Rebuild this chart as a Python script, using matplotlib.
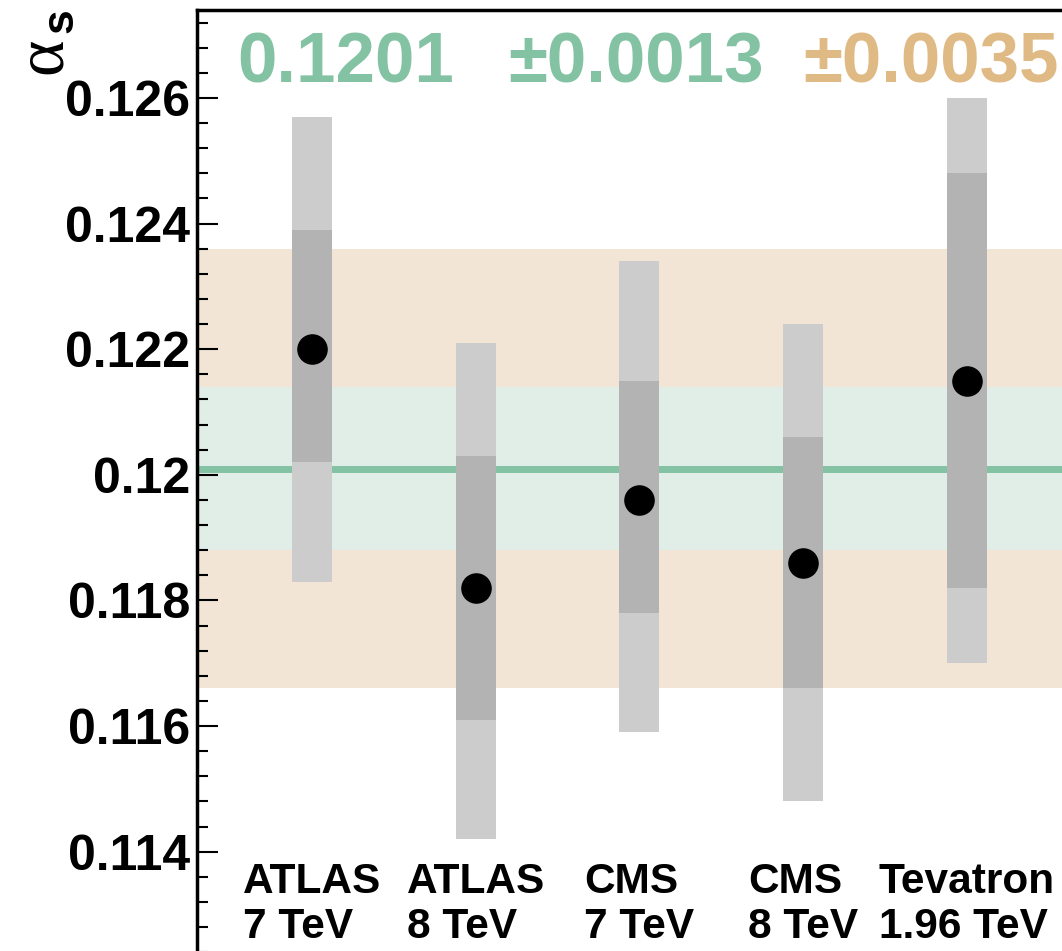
import matplotlib
matplotlib.use("Agg")
import matplotlib.pyplot as plt
import numpy as np

plt.rcParams['font.family'] = ['Liberation Sans', 'DejaVu Sans']
plt.rcParams['font.weight'] = 'bold'

# alpha_s extractions
labels = ['ATLAS\n7 TeV', 'ATLAS\n8 TeV', 'CMS\n7 TeV', 'CMS\n8 TeV', 'Tevatron\n1.96 TeV']
central = [0.1220, 0.1182, 0.1196, 0.1186, 0.1215]
inner_lo = [0.1202, 0.1161, 0.1178, 0.1166, 0.1182]
inner_hi = [0.1239, 0.1203, 0.1215, 0.1206, 0.1248]
outer_lo = [0.1183, 0.1142, 0.1159, 0.1148, 0.1170]
outer_hi = [0.1257, 0.1221, 0.1234, 0.1224, 0.1260]

# combined result
avg = 0.1201
err_stat = 0.0013
err_tot = 0.0035

yticks = [0.114, 0.116, 0.118, 0.120, 0.122, 0.124, 0.126]
ytick_labels = ['0.114', '0.116', '0.118', '0.12', '0.122', '0.124', '0.126']

green = '#84C2A4'
orange = '#E0BA85'

fig = plt.figure(figsize=(10.62, 9.51), dpi=100)
ax = fig.add_axes([0.1855, -0.1598, 0.8484, 1.1493])
ax.set_xlim(-0.702, 4.8)
ax.set_ylim(0.110, 0.1274)

x = np.arange(len(labels))

ax.axhspan(avg - err_tot, avg + err_tot, color='#F2E5D5', lw=0, zorder=0)
ax.axhspan(avg - err_stat, avg + err_stat, color='#E0EEE7', lw=0, zorder=1)
ax.axhline(avg, color=green, lw=5, zorder=2)

lo_out = np.array(outer_lo)
hi_out = np.array(outer_hi)
lo_in = np.array(inner_lo)
hi_in = np.array(inner_hi)
ax.bar(x, hi_out - lo_out, bottom=lo_out, width=0.244, color='#CCCCCC', lw=0, zorder=3)
ax.bar(x, hi_in - lo_in, bottom=lo_in, width=0.244, color='#B3B3B3', lw=0, zorder=4)
ax.plot(x, central, 'o', color='black', ms=21, zorder=5)

for xi, lab in zip(x, labels):
    ax.text(xi, 0.11383, lab, ha='center', va='top', multialignment='left',
            fontsize=30.5, fontweight='bold', linespacing=1.15, zorder=6)

ax.text(-0.458, 0.12624, '%.4f' % avg, color=green, fontsize=51,
        fontweight='bold', va='baseline', ha='left')
ax.text(1.197, 0.12624, '\u00b1%.4f' % err_stat, color=green, fontsize=51,
        fontweight='bold', va='baseline', ha='left')
ax.text(2.998, 0.12624, '\u00b1%.4f' % err_tot, color=orange, fontsize=51,
        fontweight='bold', va='baseline', ha='left')

ax.set_yticks(yticks)
ax.set_yticklabels(ytick_labels)
ax.set_yticks(np.arange(0.1104, 0.1274, 0.0004), minor=True)
ax.set_xticks([])
ax.tick_params(axis='y', which='major', direction='in', length=15, width=1.5,
               labelsize=36, pad=5)
ax.tick_params(axis='y', which='minor', direction='in', length=8, width=1.5)
for lab in ax.get_yticklabels():
    lab.set_fontweight('bold')

ax.spines['left'].set_linewidth(2.5)
ax.spines['top'].set_linewidth(2.5)
ax.spines['right'].set_visible(False)
ax.spines['bottom'].set_visible(False)

# rotated axis title: serif alpha with bold sans subscript
fig.text(44 / 1062, 1 - 56 / 951, '\u03b1', rotation=90, family='Liberation Serif',
         fontweight='normal', fontsize=50, ha='center', va='center')
fig.text(61 / 1062, 1 - 21 / 951, 's', rotation=90, fontsize=32,
         fontweight='bold', ha='center', va='center')

fig.savefig('out.png', dpi=100)
